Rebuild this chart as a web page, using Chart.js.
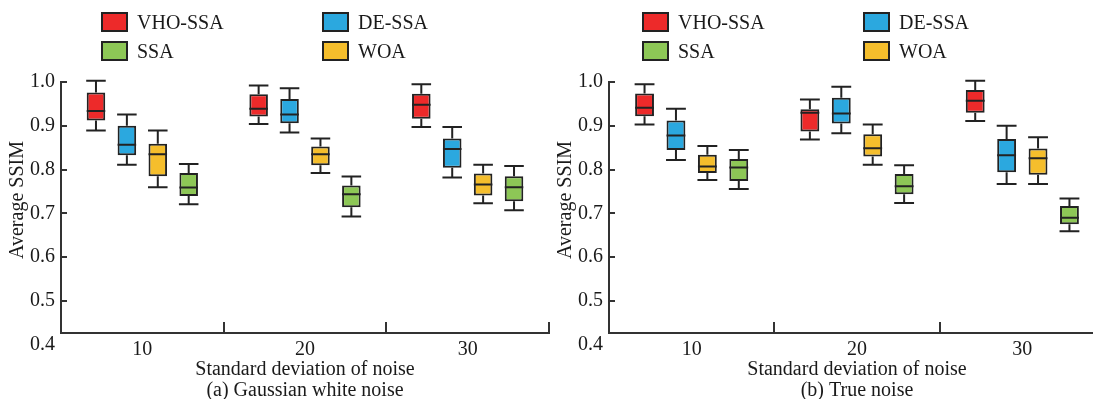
<!DOCTYPE html>
<html>
<head>
<meta charset="utf-8">
<script src="https://cdn.jsdelivr.net/npm/chart.js@4.4.1/dist/chart.umd.min.js"></script>
<style>
  html, body { margin: 0; padding: 0; background: #fff; }
  body { width: 1093px; height: 399px; position: relative; overflow: hidden; font-family: "Liberation Serif", "DejaVu Serif", serif; }
  canvas { position: absolute; top: 0; }
  #leftChart { left: 0; }
  #rightChart { left: 548px; }
  .legend-item { position: absolute; height: 20px; display: flex; align-items: center; font-size: 20px; color: #1a1a1a; white-space: nowrap; }
  .legend-box { width: 23px; height: 16px; border: 2px solid #222; margin-right: 9px; box-sizing: content-box; }
</style>
</head>
<body>
<canvas id="leftChart" width="556" height="405"></canvas>
<canvas id="rightChart" width="560" height="405"></canvas>
<div id="legends"></div>
<script>
// categories (noise standard deviation) and series in plotting order
const CATEGORIES = ['10', '20', '30'];
const SERIES = ['VHO-SSA', 'DE-SSA', 'WOA', 'SSA'];
const LEGEND_ORDER = ['VHO-SSA', 'DE-SSA', 'SSA', 'WOA'];
const COLORS = { 'VHO-SSA': '#ED2A2A', 'DE-SSA': '#2BA8DF', 'WOA': '#F5BE2C', 'SSA': '#8DC756' };
const Y_TICKS = [0.4, 0.5, 0.6, 0.7, 0.8, 0.9, 1.0];

// box stats per category: [min, q1, median, q3, max]
// (a) Gaussian white noise
const GAUSS_VHO = [[0.889, 0.912, 0.934, 0.976, 1.003], [0.904, 0.921, 0.939, 0.972, 0.992], [0.897, 0.916, 0.948, 0.973, 0.995]];
const GAUSS_DE  = [[0.811, 0.833, 0.857, 0.900, 0.926], [0.885, 0.906, 0.926, 0.961, 0.986], [0.782, 0.804, 0.847, 0.871, 0.897]];
const GAUSS_WOA = [[0.760, 0.785, 0.835, 0.859, 0.889], [0.792, 0.810, 0.835, 0.853, 0.871], [0.723, 0.741, 0.766, 0.791, 0.811]];
const GAUSS_SSA = [[0.721, 0.740, 0.759, 0.792, 0.813], [0.693, 0.714, 0.744, 0.764, 0.784], [0.707, 0.728, 0.760, 0.785, 0.808]];
// (b) True noise
const TRUE_VHO = [[0.903, 0.922, 0.941, 0.974, 0.995], [0.869, 0.887, 0.930, 0.938, 0.960], [0.911, 0.930, 0.957, 0.982, 1.003]];
const TRUE_DE  = [[0.822, 0.845, 0.878, 0.912, 0.939], [0.883, 0.905, 0.928, 0.964, 0.989], [0.767, 0.794, 0.833, 0.870, 0.900]];
const TRUE_WOA = [[0.776, 0.792, 0.807, 0.834, 0.854], [0.811, 0.830, 0.849, 0.881, 0.903], [0.767, 0.788, 0.826, 0.848, 0.874]];
const TRUE_SSA = [[0.756, 0.774, 0.805, 0.824, 0.845], [0.724, 0.744, 0.762, 0.790, 0.810], [0.659, 0.675, 0.690, 0.717, 0.734]];

const FONT = { family: '"Liberation Serif", "Times New Roman", serif', size: 20 };
const INK = '#1a1a1a';
const AXIS = '#333';
const OUTLINE = '#222';

// draws whiskers, medians and the inward axis ticks
const boxPlugin = {
  id: 'boxWhiskers',
  afterDatasetsDraw(chart) {
    const ctx = chart.ctx;
    const y = chart.scales.y, x = chart.scales.x;
    ctx.save();
    ctx.strokeStyle = OUTLINE;
    ctx.lineWidth = 2;
    chart.data.datasets.forEach((ds, di) => {
      const meta = chart.getDatasetMeta(di);
      meta.data.forEach((bar, i) => {
        const [lo, q1, med, q3, hi] = ds.stats[i];
        const hw = bar.width / 2, cw = hw + 0.5;
        ctx.beginPath();
        ctx.moveTo(bar.x - hw, y.getPixelForValue(med));
        ctx.lineTo(bar.x + hw, y.getPixelForValue(med));
        ctx.moveTo(bar.x, y.getPixelForValue(q3));
        ctx.lineTo(bar.x, y.getPixelForValue(hi));
        ctx.moveTo(bar.x - cw, y.getPixelForValue(hi));
        ctx.lineTo(bar.x + cw, y.getPixelForValue(hi));
        ctx.moveTo(bar.x, y.getPixelForValue(q1));
        ctx.lineTo(bar.x, y.getPixelForValue(lo));
        ctx.moveTo(bar.x - cw, y.getPixelForValue(lo));
        ctx.lineTo(bar.x + cw, y.getPixelForValue(lo));
        ctx.stroke();
      });
    });
    // inward ticks
    ctx.strokeStyle = AXIS;
    ctx.beginPath();
    for (const v of Y_TICKS) {
      if (v < y.min) continue;
      const py = Math.round(y.getPixelForValue(v));
      ctx.moveTo(x.left, py);
      ctx.lineTo(x.left + 6, py);
    }
    for (let i = 1; i <= CATEGORIES.length; i++) {
      const px = Math.round(x.getPixelForValue(i - 0.5));
      ctx.moveTo(px, y.bottom);
      ctx.lineTo(px, y.bottom - 11);
    }
    ctx.stroke();
    ctx.restore();
  }
};

function makeChart(canvasId, groups, subtitle, padRight) {
  const datasets = SERIES.map((name, si) => ({
    label: name,
    data: groups[si].map(s => [s[1], s[3]]),
    stats: groups[si],
    backgroundColor: COLORS[name],
    borderColor: OUTLINE,
    borderWidth: 2,
    borderSkipped: false,
    categoryPercentage: 0.76,
    barPercentage: 0.6
  }));

  return new Chart(document.getElementById(canvasId), {
    type: 'bar',
    data: { labels: CATEGORIES, datasets },
    options: {
      responsive: false,
      animation: false,
      layout: { padding: { top: 82, right: padRight, bottom: 0, left: 0 } },
      plugins: { legend: { display: false }, tooltip: { enabled: false } },
      scales: {
        x: {
          grid: { display: false, drawTicks: false },
          border: { display: true, color: AXIS, width: 2 },
          ticks: { font: FONT, color: INK, padding: 5 },
          title: {
            display: true,
            text: ['Standard deviation of noise', subtitle],
            font: { ...FONT, lineHeight: 1.05 },
            color: INK,
            padding: { top: 0, bottom: 3.5 }
          },
          afterFit: s => { s.height = 72; }
        },
        y: {
          min: 0.427,
          max: 1.0,
          afterBuildTicks: s => { s.ticks = Y_TICKS.map(v => ({ value: v })); },
          grid: { display: false, drawTicks: false },
          border: { display: true, color: AXIS, width: 2 },
          ticks: { font: FONT, color: INK, padding: 6, callback: v => Number(v).toFixed(1) },
          title: {
            display: true,
            text: '   Average SSIM',
            font: { ...FONT, lineHeight: 1.0 },
            color: INK,
            padding: { top: 7.5, bottom: 0 }
          },
          afterFit: s => { s.width = 61; }
        }
      }
    },
    plugins: [boxPlugin]
  });
}

makeChart('leftChart', [GAUSS_VHO, GAUSS_DE, GAUSS_WOA, GAUSS_SSA], '(a) Gaussian white noise', 7);
makeChart('rightChart', [TRUE_VHO, TRUE_DE, TRUE_WOA, TRUE_SSA], '(b) True noise', 3);

// two-column legends above each panel
const legendHost = document.getElementById('legends');
[101, 642].forEach(baseX => {
  LEGEND_ORDER.forEach((name, i) => {
    const item = document.createElement('div');
    item.className = 'legend-item';
    item.style.left = (baseX + (i % 2) * 221) + 'px';
    item.style.top = (12 + Math.floor(i / 2) * 29) + 'px';
    const box = document.createElement('span');
    box.className = 'legend-box';
    box.style.background = COLORS[name];
    item.appendChild(box);
    item.appendChild(document.createTextNode(name));
    legendHost.appendChild(item);
  });
});
</script>
</body>
</html>
